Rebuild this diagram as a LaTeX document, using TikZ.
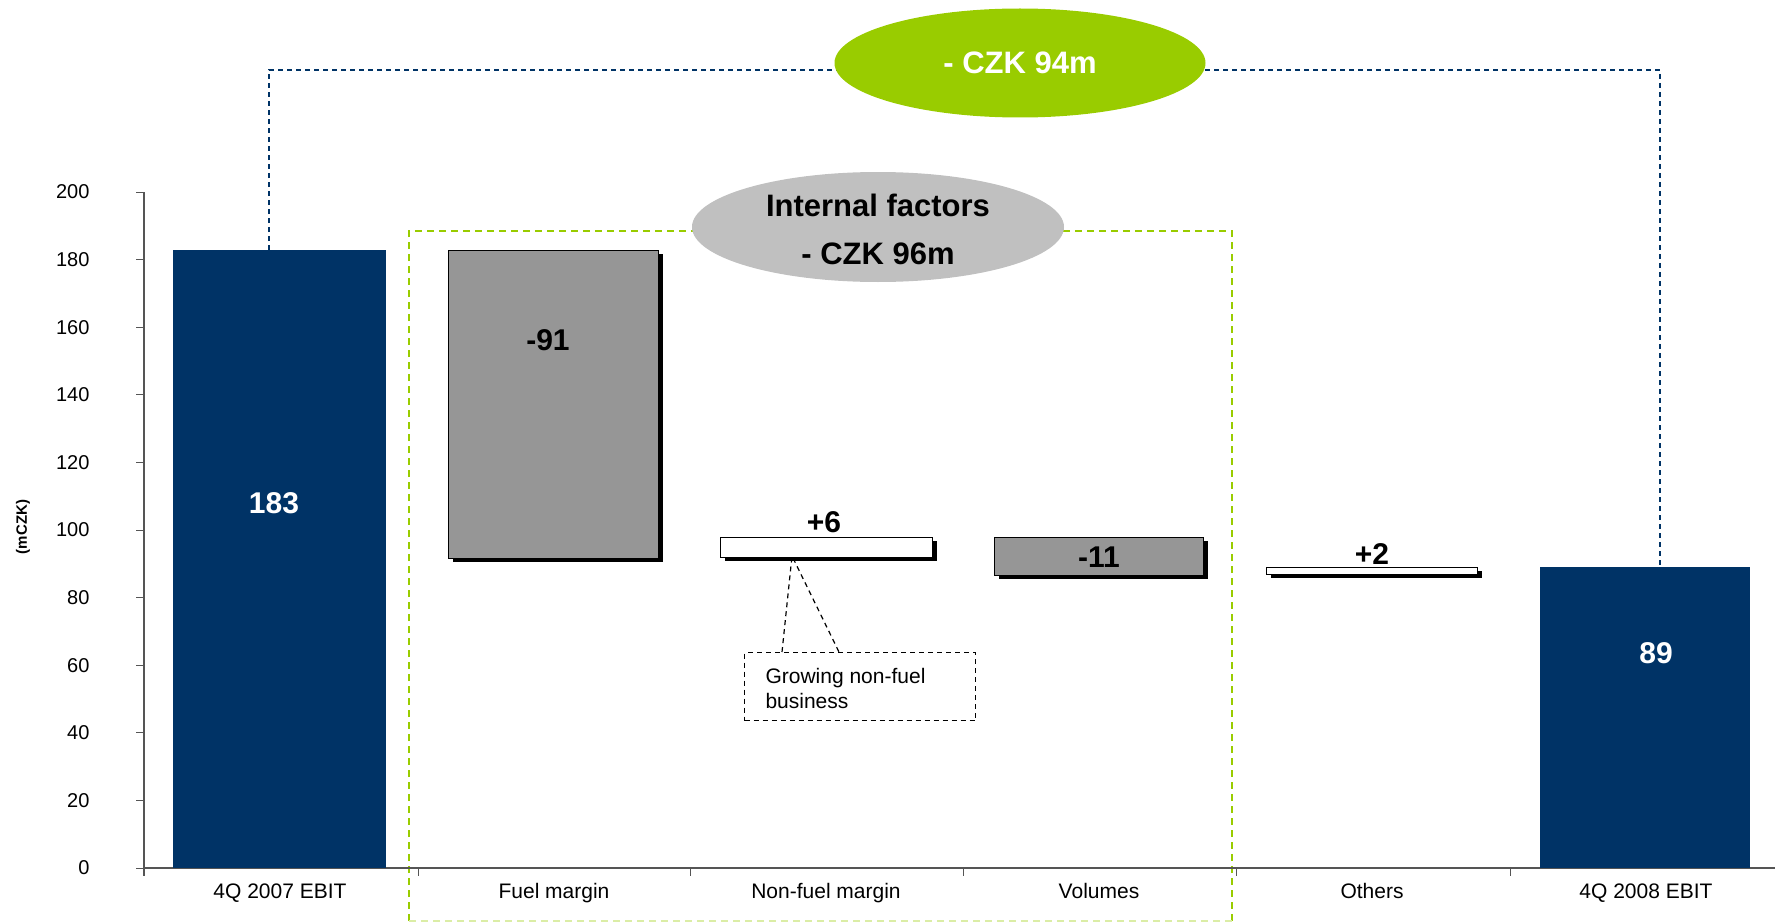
\documentclass[tikz,border=0pt]{standalone}
\usepackage{fontspec}
\setmainfont{Liberation Sans}
\usetikzlibrary{shadows,shapes.geometric}
\definecolor{navy}{HTML}{003366}
\definecolor{lime}{HTML}{99CC00}
\definecolor{barg}{HTML}{969696}
\definecolor{ellg}{HTML}{C0C0C0}
\definecolor{axisc}{HTML}{555555}
\begin{document}
\begin{tikzpicture}[x=1pt,y=-1pt,
  bar/.style={anchor=north west,inner sep=0pt,outer sep=0pt,draw=black,line width=1pt,
    drop shadow={shadow xshift=5pt,shadow yshift=-4pt,fill=black,opacity=1}},
  total/.style={anchor=north west,inner sep=0pt,outer sep=0pt,fill=navy},
  val/.style={font=\fontsize{30}{34}\selectfont\bfseries},
  cat/.style={font=\fontsize{21}{25}\selectfont,anchor=base},
  tick/.style={font=\fontsize{20}{24}\selectfont,anchor=east},
  oval/.style={ellipse,inner sep=0pt},
  frame/.style={line width=1.6pt,dash pattern=on 7pt off 5pt},
]
\useasboundingbox (0,0) rectangle (1775,923);
% internal factors frame
\draw[lime,frame] (409,921) -- (409,231) -- (1232,231) -- (1232,921);
\draw[lime!35,frame] (409,921) -- (1232,921);
% axis
\draw[axisc,line width=1.2pt] (144,192) -- (144,876);
\draw[axisc,line width=1.2pt] (144,868) -- (1775,868);
\foreach \i in {0,...,10}{
  \draw[axisc,line width=1pt] (136,868-67.6*\i) -- (144,868-67.6*\i);
  \node[tick] (t\i) at (93,868-67.6*\i) {\pgfmathparse{int(20*\i)}\pgfmathresult};
}
\foreach \x in {418,690,963,1236,1510}{
  \draw[axisc,line width=1pt] (\x,868) -- (\x,876);
}
\node[rotate=90,font=\fontsize{15}{18}\selectfont\bfseries] (ylab) at (23,527) {(mCZK)};
% total difference connector
\coordinate (t1) at (269,250);
\coordinate (t6) at (1660,567);
\draw[navy,line width=1.3pt,dash pattern=on 5pt off 4pt] (t1) -- (269,70) -- (1660,70) -- (t6);
\node[oval,fill=lime,minimum width=371pt,minimum height=109pt,font=\fontsize{31}{36}\selectfont\bfseries,text=white] (tot) at (1020,63) {- CZK 94m};
\node[oval,fill=ellg,minimum width=372pt,minimum height=110pt] (intl) at (878,227) {};
\node[font=\fontsize{31}{36}\selectfont\bfseries] (intl1) at (878,205) {Internal factors};
\node[font=\fontsize{31}{36}\selectfont\bfseries] (intl2) at (878,254) {- CZK 96m};
% bars
\node[total,minimum width=213pt,minimum height=618pt] (b1) at (173,250) {};
\node[bar,fill=barg,minimum width=210pt,minimum height=308pt] (b2) at (448,250) {};
\node[bar,fill=white,minimum width=212pt,minimum height=20pt] (b3) at (720,537) {};
\node[bar,fill=barg,minimum width=209pt,minimum height=38pt] (b4) at (994,537) {};
\node[bar,fill=white,minimum width=211pt,minimum height=7pt] (b5) at (1266,567) {};
\node[total,minimum width=210pt,minimum height=301pt] (b6) at (1540,567) {};
% values
\node[val,text=white] (v1) at (274,503) {183};
\node[val] (v2) at (548,340) {-91};
\node[val] (v3) at (824,522) {+6};
\node[val] (v4) at (1099,557) {-11};
\node[val] (v5) at (1372,554) {+2};
\node[val,text=white] (v6) at (1656,653) {89};
% categories
\node[cat] (c1) at (280,898) {4Q 2007 EBIT};
\node[cat] (c2) at (554,898) {Fuel margin};
\node[cat] (c3) at (826,898) {Non-fuel margin};
\node[cat] (c4) at (1099,898) {Volumes};
\node[cat] (c5) at (1372,898) {Others};
\node[cat] (c6) at (1646,898) {4Q 2008 EBIT};
% callout
\coordinate (cp) at (792,556);
\node[draw,line width=1.2pt,dash pattern=on 5pt off 4pt,minimum width=231pt,minimum height=68pt,inner sep=0pt,anchor=north west] (note) at (744,652) {};
\node[anchor=west,align=left,font=\fontsize{21}{25}\selectfont] (notet) at (762,688) {Growing non-fuel\\business};
\coordinate (n1) at (782,652);
\coordinate (n2) at (839,652);
\draw[line width=1.2pt,dash pattern=on 5pt off 4pt] (n1) -- (cp) -- (n2);
\end{tikzpicture}
\end{document}
